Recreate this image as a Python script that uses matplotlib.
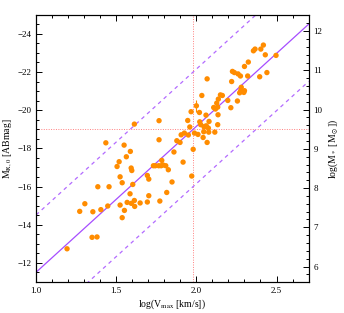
import matplotlib
matplotlib.use("Agg")
import matplotlib.pyplot as plt
from matplotlib.ticker import MultipleLocator

plt.rcParams['font.family'] = ['Liberation Serif', 'DejaVu Serif']
plt.rcParams['mathtext.fontset'] = 'stix'

# log(Vmax) and absolute magnitude of each galaxy
log_vmax = [2.418, 2.402, 2.366, 2.356, 2.430, 2.497, 2.324, 2.300, 2.225, 2.237,
            2.260, 2.275, 2.320, 2.440, 2.395, 2.067, 2.220, 2.280, 2.300, 2.277,
            2.270, 2.296, 2.034, 2.150, 2.162, 2.256, 2.196, 2.137, 2.127, 2.133,
            2.215, 2.108, 2.119, 2.000, 1.967, 2.019, 1.946, 2.079, 2.021, 2.135,
            2.060, 1.959, 1.988, 2.010, 2.027, 2.048, 2.062, 2.075, 2.046, 2.077,
            2.115, 2.133, 2.042, 1.905, 1.878, 1.898, 2.067, 1.860, 1.980, 1.613,
            1.767, 1.435, 1.549, 1.767, 1.588, 1.563, 1.518, 1.505, 1.593, 1.597,
            1.524, 1.537, 1.603, 1.385, 1.455, 1.694, 1.703, 1.732, 1.744, 1.765,
            1.780, 1.792, 1.809, 1.784, 1.586, 1.568, 1.613, 1.594, 1.615, 1.649,
            1.694, 1.703, 1.772, 1.815, 1.848, 1.524, 1.551, 1.537, 1.304, 1.272,
            1.354, 1.404, 1.447, 1.349, 1.380, 1.193, 1.917, 1.971, 1.825, 1.925,
            1.950, 2.054]
mag_r = [-23.41, -23.20, -23.20, -23.11, -22.90, -22.87, -22.52, -22.29, -22.03, -21.97,
         -21.90, -21.79, -21.79, -21.97, -21.75, -21.64, -21.50, -21.20, -21.02, -21.03,
         -20.91, -20.93, -20.77, -20.80, -20.77, -20.48, -20.51, -20.58, -20.37, -20.16,
         -20.13, -20.14, -20.06, -20.23, -19.92, -19.88, -19.46, -19.41, -19.39, -19.76,
         -19.74, -19.12, -18.80, -18.73, -19.24, -19.12, -19.18, -19.06, -18.87, -18.85,
         -18.85, -19.24, -18.57, -18.71, -18.40, -18.31, -18.31, -17.81, -17.95, -19.27,
         -19.45, -18.29, -18.17, -18.45, -17.84, -17.56, -17.30, -17.05, -16.97, -16.84,
         -16.51, -16.20, -16.11, -15.99, -15.99, -16.58, -16.39, -17.09, -17.09, -17.09,
         -17.09, -17.13, -17.09, -17.37, -15.62, -15.17, -15.27, -15.12, -14.96, -15.14,
         -15.19, -15.52, -15.24, -15.69, -16.24, -15.03, -14.75, -14.37, -15.10, -14.70,
         -14.68, -14.79, -14.98, -13.34, -13.36, -12.74, -17.28, -16.55, -16.88, -18.80,
         -18.70, -19.15]

# the one galaxy drawn with a visible error bar
err_x, err_m, err_dm = 2.000, -20.23, 0.3

# fitted relation and scatter band
fit_slope = -7.64
pivot_x, pivot_m = 1.98, -19.0
band = 3.0

# stellar mass axis: logM = a + b*M
mass_a, mass_b = 0.251, -0.4867

fig = plt.figure(figsize=(3.44, 3.13), dpi=100)
ax = fig.add_axes([0.105, 0.099, 0.792, 0.854])

xs = [1.0, 2.7]
fit = [pivot_m + fit_slope * (x - pivot_x) for x in xs]
ax.plot(xs, fit, color='#a64dff', lw=0.9, zorder=2)
ax.plot(xs, [m - band for m in fit], color='#b36bff', lw=0.9, ls=(0, (3, 3)), zorder=2)
ax.plot(xs, [m + band for m in fit], color='#b36bff', lw=0.9, ls=(0, (3, 3)), zorder=2)

ax.axhline(pivot_m, color='#ff7f7f', lw=0.7, ls=(0, (1, 1.5)), zorder=1)
ax.axvline(pivot_x, color='#ff7f7f', lw=0.7, ls=(0, (1, 1.5)), zorder=1)

ax.errorbar([err_x], [err_m], yerr=[err_dm], fmt='none', ecolor='#ff8c00', elinewidth=0.8, zorder=3)
ax.scatter(log_vmax, mag_r, s=15, color='#ff8c00', edgecolors='none', zorder=3)

ax.set_xlim(1.0, 2.7)
ax.set_ylim(-11, -25)
ax.xaxis.set_major_locator(MultipleLocator(0.5))
ax.xaxis.set_minor_locator(MultipleLocator(0.1))
ax.yaxis.set_major_locator(MultipleLocator(2))
ax.yaxis.set_minor_locator(MultipleLocator(0.5))
ax.tick_params(which='both', direction='in', top=True, right=False, labelsize=6.5, width=0.7)
ax.tick_params(which='major', length=4)
ax.tick_params(which='minor', length=2)
ax.set_xlabel(r'log(V$_{\rm max}$ [km/s])', fontsize=7, labelpad=2)
ax.set_ylabel(r'M$_{\rm R,0}$ [ABmag]', fontsize=7, labelpad=2)

ax2 = ax.twinx()
ax2.set_ylim(mass_a + mass_b * -11, mass_a + mass_b * -25)
ax2.yaxis.set_major_locator(MultipleLocator(1))
ax2.yaxis.set_minor_locator(MultipleLocator(0.2))
ax2.tick_params(which='both', direction='in', labelsize=6.5, width=0.7)
ax2.tick_params(which='major', length=4)
ax2.tick_params(which='minor', length=2)
ax2.set_ylabel(r'log(M$_*$ [M$_\odot$])', fontsize=7, labelpad=3)

for a in (ax, ax2):
    for s in a.spines.values():
        s.set_linewidth(0.8)

fig.savefig('out.png', dpi=100)
